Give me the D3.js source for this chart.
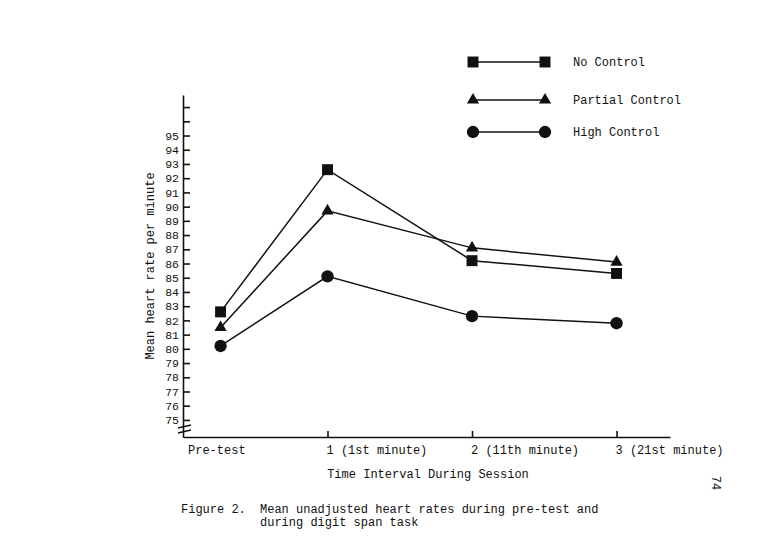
<!DOCTYPE html>
<html>
<head>
<meta charset="utf-8">
<script src="https://cdn.jsdelivr.net/npm/d3@7"></script>
<style>
  body { margin: 0; background: #fff; }
  text { font-family: "Liberation Mono", "DejaVu Sans Mono", monospace; fill: #111; }
</style>
</head>
<body>
<svg id="chart" width="765" height="552"></svg>
<script>
// interval positions on the time axis (pre-test sits closer to interval 1)
var intervals = [0.26, 1, 2, 3];
var tickLabels = ['Pre-test', '1 (1st minute)', '2 (11th minute)', '3 (21st minute)'];

var seriesNames = ['No Control', 'Partial Control', 'High Control'];
var noControl = [82.6, 92.6, 86.2, 85.3];
var partialControl = [81.5, 89.7, 87.1, 86.1];
var highControl = [80.2, 85.1, 82.3, 81.8];

var yTicks = d3.range(75, 98);

var svg = d3.select('#chart');

var x = d3.scaleLinear().domain([0, 3.37]).range([183, 670]);
var y = d3.scaleLinear().domain([73.8, 97.85]).range([437, 95]);

// y axis: ticks point inward, labels only up to 95
var yAxis = d3.axisLeft(y)
  .tickValues(yTicks)
  .tickSizeInner(-7)
  .tickSizeOuter(0)
  .tickPadding(4)
  .tickFormat(function(d) { return d <= 95 ? d : ''; });

svg.append('g')
  .attr('transform', 'translate(' + x(0) + ',0)')
  .call(yAxis)
  .call(function(g) {
    g.selectAll('path, line').attr('stroke', '#111').attr('stroke-width', 1.6);
    g.selectAll('text').attr('font-size', 11.5).attr('font-family', '"Liberation Mono", monospace').attr('fill', '#111');
  });

// axis break mark
svg.append('g').selectAll('line').data([0, 5])
  .enter().append('line')
  .attr('x1', x(0) - 5).attr('x2', x(0) + 8)
  .attr('y1', function(d) { return 428 + d; })
  .attr('y2', function(d) { return 425 + d; })
  .attr('stroke', '#111').attr('stroke-width', 1.3);

// x axis: small ticks upward
var xAxis = d3.axisBottom(x)
  .tickValues([1, 2, 3])
  .tickSizeInner(-6)
  .tickSizeOuter(0)
  .tickFormat('');

svg.append('g')
  .attr('transform', 'translate(0,' + y(73.8) + ')')
  .call(xAxis)
  .call(function(g) {
    g.selectAll('path, line').attr('stroke', '#111').attr('stroke-width', 1.6);
  });

svg.append('g').selectAll('text').data(tickLabels)
  .enter().append('text')
  .attr('x', function(d, i) { return i === 0 ? x(0) + 5 : x(intervals[i]) - 1; })
  .attr('y', 454)
  .attr('font-size', 12)
  .text(function(d) { return d; });

svg.append('text')
  .attr('x', 428).attr('y', 478)
  .attr('text-anchor', 'middle')
  .attr('font-size', 12)
  .text('Time Interval During Session');

svg.append('text')
  .attr('transform', 'translate(154,266) rotate(-90)')
  .attr('text-anchor', 'middle')
  .attr('font-size', 12)
  .text('Mean heart rate per minute');

// series
var symbols = [d3.symbolSquare, d3.symbolTriangle, d3.symbolCircle];
var symbolSizes = [120, 65, 120];
var series = [noControl, partialControl, highControl];

var line = d3.line()
  .x(function(d, i) { return x(intervals[i]); })
  .y(function(d) { return y(d); });

var groups = svg.append('g').selectAll('g').data(series)
  .enter().append('g');

groups.append('path')
  .attr('d', function(d) { return line(d); })
  .attr('fill', 'none')
  .attr('stroke', '#111')
  .attr('stroke-width', 1.5);

groups.each(function(vals, s) {
  d3.select(this).selectAll('path.pt').data(vals)
    .enter().append('path')
    .classed('pt', true)
    .attr('transform', function(d, i) { return 'translate(' + x(intervals[i]) + ',' + y(d) + ')'; })
    .attr('d', d3.symbol().type(symbols[s]).size(symbolSizes[s]))
    .attr('fill', '#111');
});

// legend
var legendY = [62, 100, 132];
var legend = svg.append('g').selectAll('g').data(seriesNames)
  .enter().append('g')
  .attr('transform', function(d, i) { return 'translate(0,' + legendY[i] + ')'; });

legend.append('line')
  .attr('x1', 473).attr('x2', 545)
  .attr('stroke', '#111').attr('stroke-width', 1.3);

legend.each(function(name, s) {
  d3.select(this).selectAll('path').data([473, 545])
    .enter().append('path')
    .attr('transform', function(d) { return 'translate(' + d + ',0)'; })
    .attr('d', d3.symbol().type(symbols[s]).size(symbolSizes[s]))
    .attr('fill', '#111');
});

legend.append('text')
  .attr('x', 573).attr('y', 4)
  .attr('font-size', 12)
  .text(function(d) { return d; });

// caption
svg.append('text')
  .attr('x', 181).attr('y', 513)
  .attr('font-size', 12)
  .text('Figure 2.');
svg.append('text')
  .attr('x', 260).attr('y', 513)
  .attr('font-size', 12)
  .text('Mean unadjusted heart rates during pre-test and');
svg.append('text')
  .attr('x', 260).attr('y', 526)
  .attr('font-size', 12)
  .text('during digit span task');

// page number
svg.append('text')
  .attr('transform', 'translate(712,483) rotate(90)')
  .attr('text-anchor', 'middle')
  .attr('font-size', 12)
  .text('74');
</script>
</body>
</html>
